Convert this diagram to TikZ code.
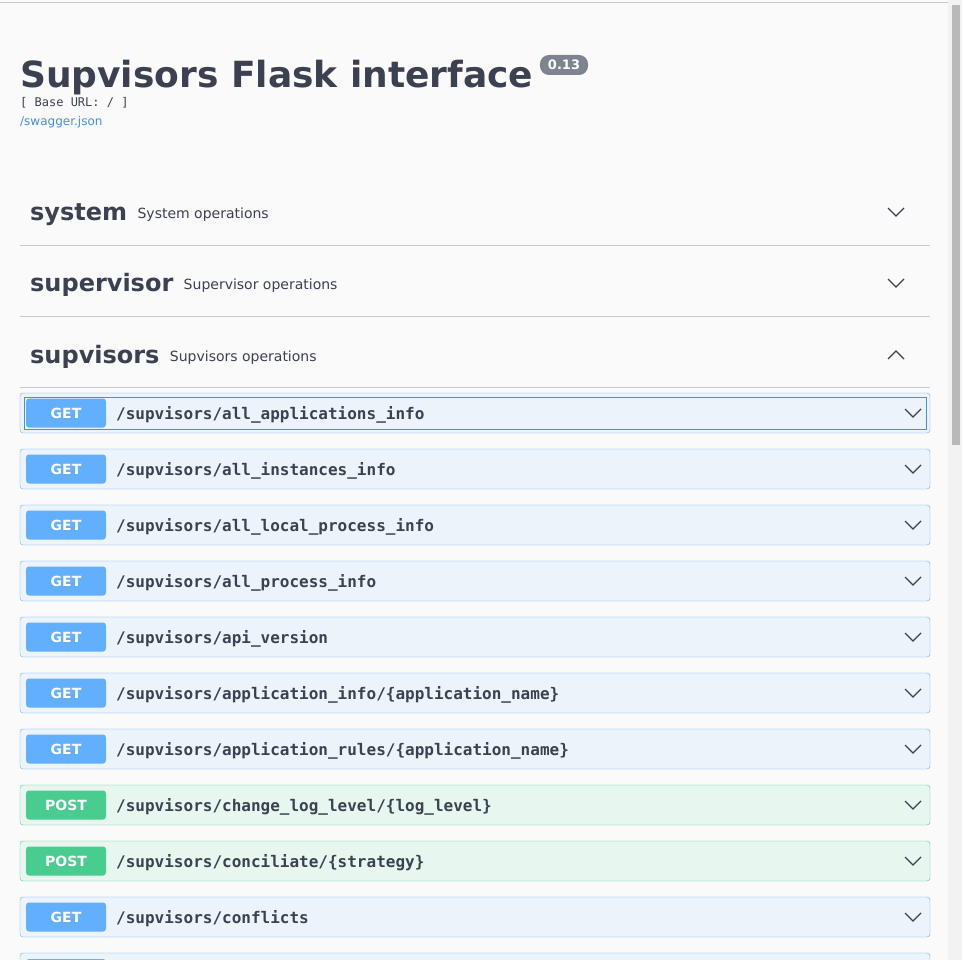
\documentclass[tikz,border=0pt]{standalone}
\usepackage{fontspec}
\setmainfont{DejaVu Sans}
\setmonofont{DejaVu Sans Mono}
\definecolor{page_bg}{RGB}{250,250,250}
\definecolor{ink}{RGB}{59,65,81}
\definecolor{link_blue}{RGB}{65,144,226}
\definecolor{get_fill}{RGB}{235,243,251}
\definecolor{get_edge}{RGB}{97,175,254}
\definecolor{post_fill}{RGB}{232,246,240}
\definecolor{post_edge}{RGB}{73,204,144}
\definecolor{rule_gray}{RGB}{200,200,205}
\definecolor{badge_gray}{RGB}{125,132,144}

\begin{document}
\begin{tikzpicture}[x=1pt,y=-1pt]
    \tikzstyle{tag}=[anchor=base west, inner sep=0, text=ink, font=\fontsize{24}{24}\selectfont\bfseries]
    \tikzstyle{tagdesc}=[anchor=base west, inner sep=0, text=ink, font=\fontsize{14}{14}\selectfont]
    \tikzstyle{method}=[rounded corners=3pt, minimum width=80pt, minimum height=29pt, inner sep=0, text=white, font=\fontsize{14}{14}\selectfont\bfseries]
    \tikzstyle{path}=[anchor=west, inner sep=0, text=ink, font=\fontsize{16}{16}\selectfont\ttfamily\bfseries]
    \tikzstyle{chev}=[line width=1.3pt, ink]

    \fill[page_bg] (0,0) rectangle (962,960);
    \useasboundingbox (0,0) rectangle (962,960);
    \draw[rule_gray] (0,2) -- (962,2);
    % scrollbar
    \fill[gray!10] (948,0) rectangle (962,960);
    \fill[gray!55] (952,5) rectangle (960,445);

    % header
    \node[anchor=base west, inner sep=0, text=ink, font=\fontsize{36}{36}\selectfont\bfseries] (title) at (20,88) {Supvisors Flask interface};
    \node[fill=badge_gray, rounded corners=9pt, text=white, inner xsep=8pt, inner ysep=0pt, minimum height=20pt, font=\fontsize{13}{13}\selectfont\bfseries] (version) at (564,65) {0.13};
    \node[anchor=base west, inner sep=0, text=ink, font=\fontsize{12}{12}\selectfont\ttfamily] (base) at (20,107) {[ Base URL: / ]};
    \node[anchor=base west, inner sep=0, text=link_blue, font=\fontsize{12}{12}\selectfont] (json) at (20,126) {/swagger.json};

    % tags
    \foreach \y/\name/\desc/\open in {212/system/System operations/0,
        283/supervisor/Supervisor operations/0, 354/supvisors/Supvisors operations/1} {
      \node[tag] (tag-\name) at (30,\y+9) {\name};
      \node[tagdesc] at ([xshift=10pt,yshift=2pt]tag-\name.base east) {\desc};
      \draw[rule_gray] (20,\y+33) -- (930,\y+33);
      \ifnum\open=1
        \draw[chev] (888,\y+5) -- (896,\y-3) -- (904,\y+5);
      \else
        \draw[chev] (888,\y-4) -- (896,\y+4) -- (904,\y-4);
      \fi
    }

    % operations
    \foreach \i/\verb/\route in {0/GET/{all\_applications\_info}, 1/GET/{all\_instances\_info},
        2/GET/{all\_local\_process\_info}, 3/GET/{all\_process\_info}, 4/GET/{api\_version},
        5/GET/{application\_info/\{application\_name\}}, 6/GET/{application\_rules/\{application\_name\}},
        7/POST/{change\_log\_level/\{log\_level\}}, 8/POST/{conciliate/\{strategy\}}, 9/GET/{conflicts}} {
      \pgfmathsetmacro\yc{413+56*\i}
      \ifnum\pdfstrcmp{\verb}{GET}=0
        \def\opfill{get_fill}\def\opedge{get_edge}
      \else
        \def\opfill{post_fill}\def\opedge{post_edge}
      \fi
      \draw[fill=\opfill, draw=\opedge, rounded corners=3pt] (20,\yc-20) rectangle (930,\yc+20);
      \node[method, fill=\opedge] (op\i) at (66,\yc) {\verb};
      \node[path] at (116,\yc+1.5) {/supvisors/\route};
      \draw[line width=1.1pt, ink] (905,\yc-4) -- (913,\yc+4) -- (921,\yc-4);
    }
    \draw[link_blue, line width=1pt] (24,397) rectangle (926,429);
    % next, cut-off row
    \draw[fill=get_fill, draw=get_edge, rounded corners=3pt] (20,953) rectangle (930,990);
    \fill[get_edge, rounded corners=3pt] (26,959) rectangle (106,990);
\end{tikzpicture}
\end{document}
